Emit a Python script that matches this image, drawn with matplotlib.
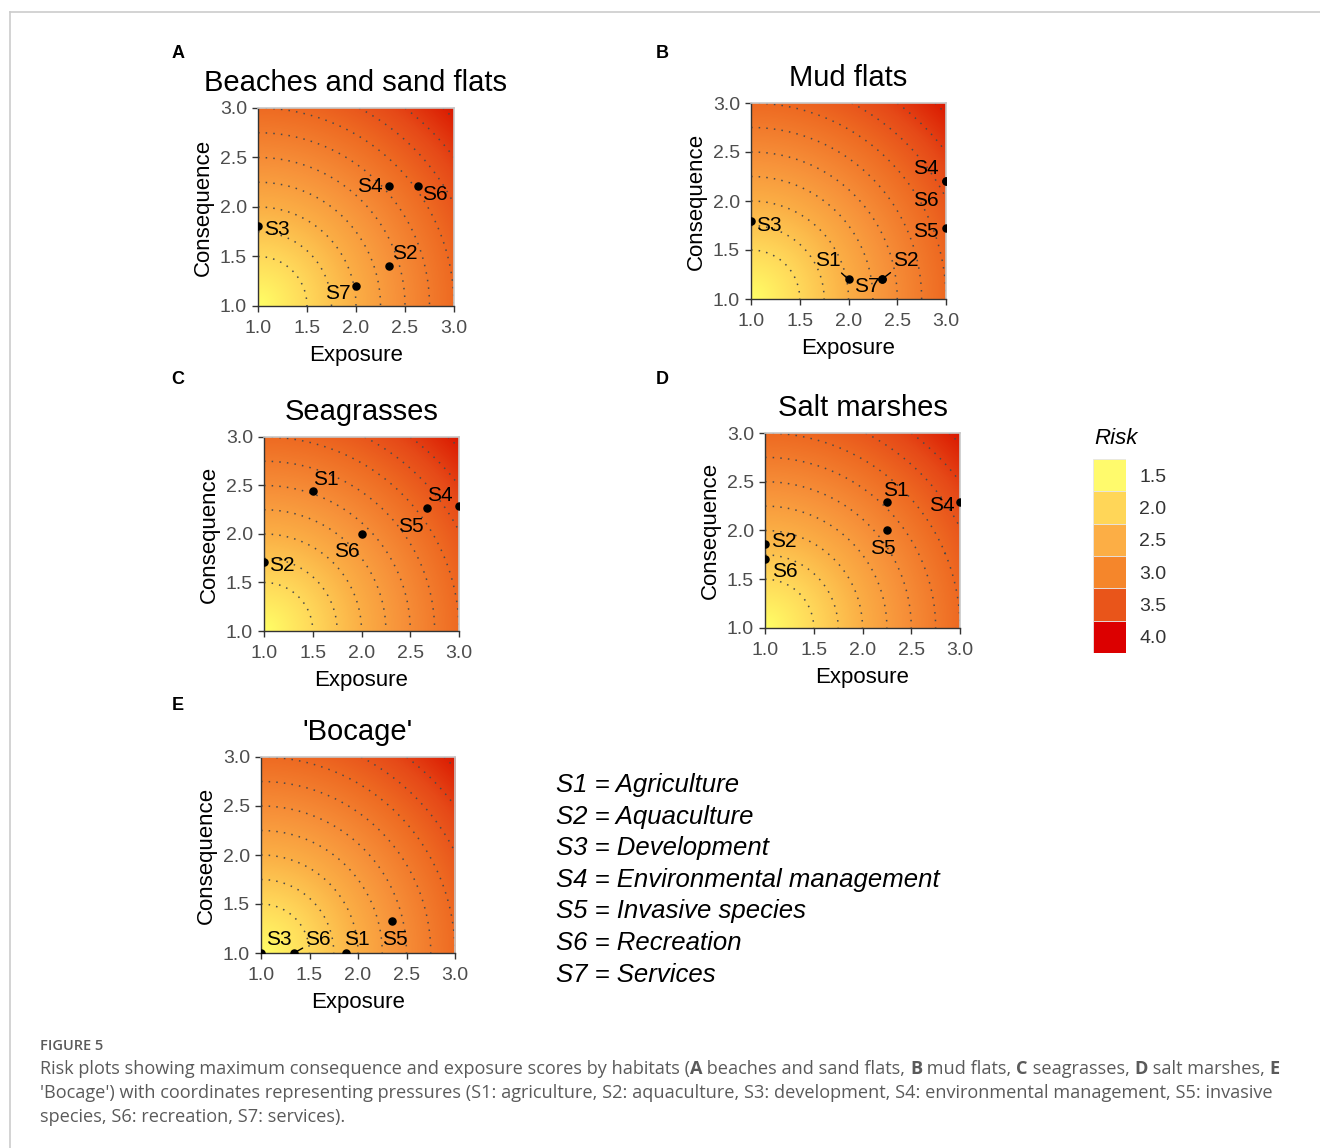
import numpy as np
import matplotlib
matplotlib.use("Agg")
import matplotlib.pyplot as plt
from matplotlib.colors import LinearSegmentedColormap, Normalize
from matplotlib.lines import Line2D

plt.rcParams['font.family'] = ['Liberation Sans', 'DejaVu Sans']

# ---- data ----
habitats = ['Beaches and sand flats', 'Mud flats', 'Seagrasses', 'Salt marshes', "'Bocage'"]
panel_letters = ['A', 'B', 'C', 'D', 'E']

beach_labels = ['S2', 'S3', 'S4', 'S6', 'S7']
beach_exposure = [2.34, 1.0, 2.34, 2.63, 2.0]
beach_consequence = [1.40, 1.81, 2.21, 2.21, 1.20]

mud_labels = ['S1', 'S2', 'S3', 'S4', 'S5', 'S6', 'S7']
mud_exposure = [2.0, 2.34, 1.0, 3.0, 3.0, 3.0, 2.34]
mud_consequence = [1.20, 1.20, 1.80, 2.20, 1.72, 2.20, 1.20]

seagrass_labels = ['S1', 'S2', 'S4', 'S5', 'S6']
seagrass_exposure = [1.5, 1.0, 3.0, 2.67, 2.0]
seagrass_consequence = [2.44, 1.71, 2.29, 2.27, 2.0]

marsh_labels = ['S1', 'S2', 'S4', 'S5', 'S6']
marsh_exposure = [2.25, 1.0, 3.0, 2.25, 1.0]
marsh_consequence = [2.29, 1.86, 2.29, 2.0, 1.71]

bocage_labels = ['S1', 'S3', 'S5', 'S6']
bocage_exposure = [1.88, 1.0, 2.35, 1.34]
bocage_consequence = [1.0, 1.0, 1.33, 1.0]

risk_breaks = [1.5, 2.0, 2.5, 3.0, 3.5, 4.0]
risk_colors = ['#FFFA6C', '#FFD658', '#FCAE45', '#F5862B', '#E9551A', '#DC0000']
pressures = ['Agriculture', 'Aquaculture', 'Development', 'Environmental management',
             'Invasive species', 'Recreation', 'Services']

# label placement (ggrepel-like), text centres in data units
label_pos = [
    {'S2': (2.50, 1.53), 'S3': (1.19, 1.77), 'S4': (2.14, 2.21), 'S6': (2.80, 2.13), 'S7': (1.81, 1.13)},
    {'S1': (1.79, 1.39), 'S2': (2.59, 1.39), 'S3': (1.18, 1.75), 'S4': (2.79, 2.33),
     'S5': (2.79, 1.69), 'S6': (2.79, 2.01), 'S7': (2.19, 1.125)},
    {'S1': (1.63, 2.56), 'S2': (1.18, 1.68), 'S4': (2.80, 2.40), 'S5': (2.51, 2.08), 'S6': (1.85, 1.82)},
    {'S1': (2.34, 2.41), 'S2': (1.19, 1.89), 'S4': (2.81, 2.26), 'S5': (2.21, 1.82), 'S6': (1.20, 1.58)},
    {'S1': (1.99, 1.14), 'S3': (1.18, 1.14), 'S5': (2.38, 1.14), 'S6': (1.59, 1.14)},
]
leaders = [[], ['S1', 'S2'], [], [], ['S6']]

panels = [
    (beach_labels, beach_exposure, beach_consequence),
    (mud_labels, mud_exposure, mud_consequence),
    (seagrass_labels, seagrass_exposure, seagrass_consequence),
    (marsh_labels, marsh_exposure, marsh_consequence),
    (bocage_labels, bocage_exposure, bocage_consequence),
]

# pixel boxes of the plotting areas (left, top, right, bottom)
boxes = [(258, 108, 454, 306), (751, 103, 946, 299), (264, 437, 459, 631),
         (765, 433, 960, 628), (261, 757, 455, 953)]
letter_xy = [(178, 53), (662, 53), (178, 379), (662, 379), (178, 706)]

W, H = 1320, 1148
fig = plt.figure(figsize=(W / 100, H / 100), dpi=100)


def fx(px):
    return px / W


def fy(py):
    return 1 - py / H


# background: distance from (1, 1), 0 .. 2.83
dmax = np.sqrt(8)
norm = Normalize(0, dmax)
shade = [(0.0, '#FFFF66'), (0.5, '#FFD85A'), (1.0, '#FBAE45'), (1.41, '#F7923A'),
         (2.0, '#EE6A22'), (2.4, '#E64A18'), (dmax, '#DA1800')]
cmap = LinearSegmentedColormap.from_list('risk', [(d / dmax, c) for d, c in shade])

g = np.linspace(1, 3, 300)
E, C = np.meshgrid(g, g)
dist = np.hypot(E - 1, C - 1)

for i, (labs, ex, co) in enumerate(panels):
    l, t, r, b = boxes[i]
    ax = fig.add_axes([fx(l), fy(b), fx(r) - fx(l), (b - t) / H])
    ax.imshow(dist, origin='lower', extent=(1, 3, 1, 3), cmap=cmap, norm=norm,
              aspect='auto', interpolation='bilinear')
    ax.contour(E, C, dist, levels=np.arange(0.5, 2.8, 0.25), colors='#4a4a4a',
               linewidths=1.1, linestyles=[(0, (1, 4))])
    ax.scatter(ex, co, s=26, color='black', zorder=4)
    for lab, x, y in zip(labs, ex, co):
        tx, ty = label_pos[i][lab]
        if lab in leaders[i]:
            ax.annotate(lab, xy=(x, y), xytext=(tx, ty), ha='center', va='center', fontsize=15,
                        arrowprops=dict(arrowstyle='-', color='black', lw=1, shrinkA=0, shrinkB=1))
        else:
            ax.text(tx, ty, lab, ha='center', va='center', fontsize=15, zorder=5)
    ax.set_xlim(1, 3)
    ax.set_ylim(1, 3)
    ax.set_xticks([1.0, 1.5, 2.0, 2.5, 3.0])
    ax.set_yticks([1.0, 1.5, 2.0, 2.5, 3.0])
    ax.set_xticklabels(['1.0', '1.5', '2.0', '2.5', '3.0'])
    ax.set_yticklabels(['1.0', '1.5', '2.0', '2.5', '3.0'])
    ax.tick_params(length=4, width=1, color='#333333', labelcolor='#4D4D4D', labelsize=14, pad=4)
    ax.tick_params(axis='x', pad=6)
    for s in ['left', 'bottom']:
        ax.spines[s].set_color('#333333')
        ax.spines[s].set_linewidth(1)
    for s in ['top', 'right']:
        ax.spines[s].set_color('#C8C8C8')
        ax.spines[s].set_linewidth(1.2)
    ax.set_xlabel('Exposure', fontsize=16, labelpad=6)
    ax.set_ylabel('Consequence', fontsize=16, labelpad=4)
    ax.set_title(habitats[i], fontsize=21, pad=12)
    lx, ly = letter_xy[i]
    fig.text(fx(lx), fy(ly), panel_letters[i], fontsize=13, fontweight='bold', ha='center', va='center')

# legend for risk
lax = fig.add_axes([fx(1093), fy(653), fx(1126) - fx(1093), 194 / H])
lax.bar([0] * len(risk_breaks), [1] * len(risk_breaks), bottom=np.arange(len(risk_breaks)),
        width=1, color=risk_colors, edgecolor='#E6E6E6', linewidth=0.6)
lax.set_xlim(-0.5, 0.5)
lax.set_ylim(len(risk_breaks), 0)
lax.axis('off')
for k, v in enumerate(risk_breaks):
    lax.text(1.4, k + 0.56, f'{v:.1f}', transform=lax.get_yaxis_transform(), fontsize=14,
             color='#333333', va='center', ha='left')
fig.text(fx(1094), fy(438), 'Risk', fontsize=16, fontstyle='italic', ha='left', va='center')

# pressure key
for k, name in enumerate(pressures):
    fig.text(fx(556), fy(785 + k * 31.6), f'S{k + 1} = {name}', fontsize=18.5,
             fontstyle='italic', ha='left', va='center')

# frame lines
fig.add_artist(Line2D([fx(10), 1], [fy(12), fy(12)], color='#CCCCCC', lw=1.2))
fig.add_artist(Line2D([fx(10), fx(10)], [fy(12), 0], color='#CCCCCC', lw=1.2))

# caption
cap_kw = dict(family=['Open Sans', 'DejaVu Sans'], fontsize=13.1, color='#5A5A5A')
rend = fig.canvas.get_renderer()


def rich_line(x, y, parts):
    for s, w in parts:
        fig.text(x, y, s, fontweight=w, ha='left', va='center', **cap_kw)
        probe = fig.text(0, 0, s + '|', fontweight=w, **cap_kw)
        bar = fig.text(0, 0, '|', fontweight=w, **cap_kw)
        width = probe.get_window_extent(rend).width - bar.get_window_extent(rend).width
        probe.remove()
        bar.remove()
        x += width / fig.bbox.width


fig.text(fx(40), fy(1046), 'FIGURE 5', family=['Open Sans', 'DejaVu Sans'], fontsize=10.5,
         color='#5A5A5A', fontweight='semibold', ha='left', va='center')
rich_line(fx(40), fy(1069), [
    ('Risk plots showing maximum consequence and exposure scores by habitats (', 'normal'),
    ('A', 'bold'), (' beaches and sand flats, ', 'normal'), ('B', 'bold'), (' mud flats, ', 'normal'),
    ('C', 'bold'), (' seagrasses, ', 'normal'), ('D', 'bold'), (' salt marshes, ', 'normal'), ('E', 'bold')])
rich_line(fx(40), fy(1093), [
    ("'Bocage') with coordinates representing pressures (S1: agriculture, S2: aquaculture, "
     "S3: development, S4: environmental management, S5: invasive", 'normal')])
rich_line(fx(40), fy(1117), [('species, S6: recreation, S7: services).', 'normal')])

fig.savefig('out.png', dpi=100)
